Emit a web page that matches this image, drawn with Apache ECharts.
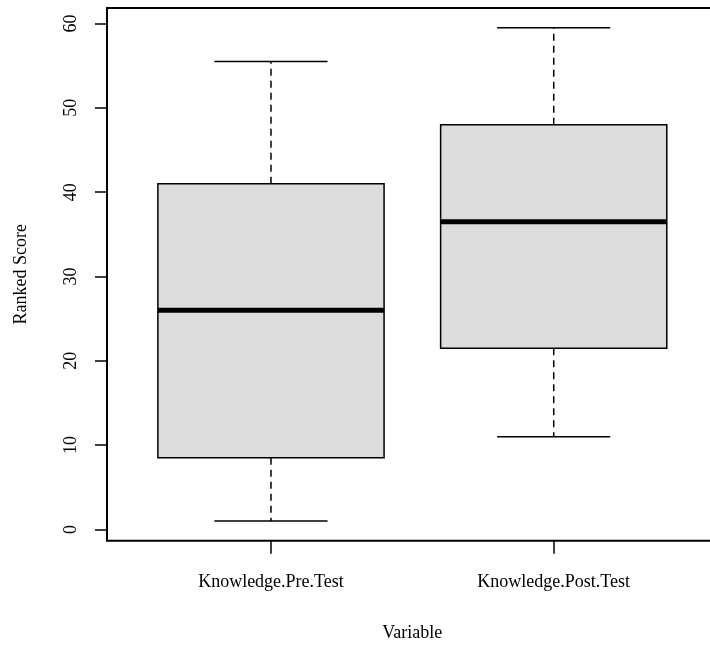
<!DOCTYPE html>
<html>
<head>
<meta charset="utf-8">
<script src="https://cdn.jsdelivr.net/npm/echarts@6/dist/echarts.min.js"></script>
<style>html,body{margin:0;padding:0;background:#fff}#c{width:710px;height:648px}</style>
</head>
<body>
<div id="c"></div>
<script>
var categories = ['Knowledge.Pre.Test', 'Knowledge.Post.Test'];
var whiskerLow = [1, 11];
var q1 = [8.5, 21.5];
var median = [26, 36.5];
var q3 = [41, 48];
var whiskerHigh = [55.5, 59.5];
var yTicks = [0, 10, 20, 30, 40, 50, 60];
var xTicks = [1, 2];

var data = categories.map(function (c, i) {
  return [i + 1, whiskerLow[i], q1[i], median[i], q3[i], whiskerHigh[i]];
});

var font = 'Liberation Serif';
var chart = echarts.init(document.getElementById('c'), null, {renderer: 'canvas'});

function renderItem(params, api) {
  var x = api.value(0);
  var lo = api.coord([x - 0.4, api.value(2)]);
  var hi = api.coord([x + 0.4, api.value(4)]);
  var c = api.coord([x, api.value(3)]);
  var cl = api.coord([x - 0.2, api.value(1)]);
  var cr = api.coord([x + 0.2, api.value(1)]);
  var tl = api.coord([x - 0.2, api.value(5)]);
  var tr = api.coord([x + 0.2, api.value(5)]);
  var cx = c[0];
  var line = {stroke: '#000', lineWidth: 1.5};
  var dash = {stroke: '#000', lineWidth: 1.5, lineDash: [7, 5]};
  return {
    type: 'group',
    children: [
      {type: 'line', shape: {x1: cx, y1: hi[1], x2: cx, y2: tl[1]}, style: dash},
      {type: 'line', shape: {x1: cx, y1: lo[1], x2: cx, y2: cl[1]}, style: dash},
      {type: 'line', shape: {x1: tl[0], y1: tl[1], x2: tr[0], y2: tr[1]}, style: line},
      {type: 'line', shape: {x1: cl[0], y1: cl[1], x2: cr[0], y2: cr[1]}, style: line},
      {type: 'rect', shape: {x: lo[0], y: hi[1], width: hi[0] - lo[0], height: lo[1] - hi[1]},
        style: {fill: '#dcdcdc', stroke: '#000', lineWidth: 1.5}},
      {type: 'line', shape: {x1: lo[0], y1: c[1], x2: hi[0], y2: c[1]}, style: {stroke: '#000', lineWidth: 5}}
    ]
  };
}

chart.setOption({
  animation: false,
  backgroundColor: '#fff',
  grid: {left: 107, top: 8, width: 610.7, height: 532.7, show: true, borderColor: '#000', borderWidth: 2,
    containLabel: false, outerBoundsMode: 'none'},
  xAxis: {
    type: 'value', min: 0.42, max: 2.58,
    splitLine: {show: false},
    axisLine: {show: false, onZero: false},
    axisTick: {show: true, length: 13, customValues: xTicks, lineStyle: {color: '#000', width: 1.5}},
    axisLabel: {show: true, customValues: xTicks, margin: 33, color: '#000', fontFamily: font, fontSize: 18,
      formatter: function (v) { return categories[Math.round(v) - 1] || ''; }},
    name: 'Variable', nameLocation: 'middle', nameGap: 84,
    nameTextStyle: {color: '#000', fontFamily: font, fontSize: 18}
  },
  yAxis: {
    type: 'value', min: -1.34, max: 61.84,
    splitLine: {show: false},
    axisLine: {show: false, onZero: false},
    axisTick: {show: true, length: 12, customValues: yTicks, lineStyle: {color: '#000', width: 1.5}},
    axisLabel: {show: true, customValues: yTicks, rotate: 90, margin: 27, color: '#000', fontFamily: font, fontSize: 18},
    name: 'Ranked Score', nameLocation: 'middle', nameGap: 77, nameRotate: 90,
    nameTextStyle: {color: '#000', fontFamily: font, fontSize: 18}
  },
  series: [{
    type: 'custom',
    renderItem: renderItem,
    data: data,
    encode: {x: 0, y: [1, 2, 3, 4, 5]},
    clip: false
  }]
});
</script>
</body>
</html>
